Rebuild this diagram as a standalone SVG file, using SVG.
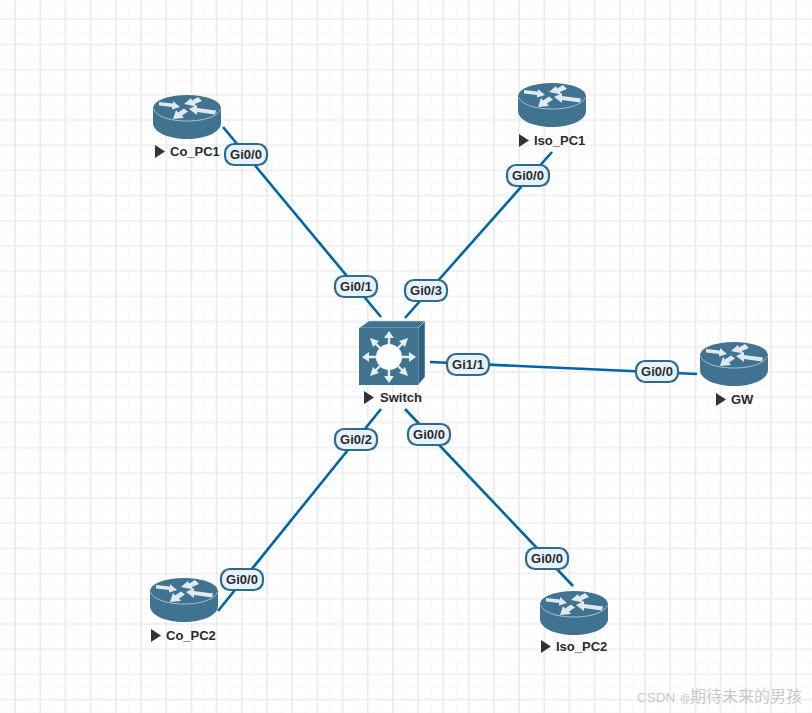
<svg xmlns="http://www.w3.org/2000/svg" width="812" height="713" viewBox="0 0 812 713">
<style>
.c{stroke:#0065a8;stroke-width:2.6;fill:none}
.lb rect{fill:#e6f2fc;stroke:#2f6a8f;stroke-width:2.2}
.lb text{font:bold 13px "Liberation Sans",Arial,sans-serif;fill:#2b2b2b;text-anchor:middle}
.n{font:bold 13px "Liberation Sans",Arial,sans-serif;fill:#2b2b2b}
.t{fill:#333}
.a{fill:#dfe9ef}
</style>
<defs>
<pattern id="g" width="25.2" height="25.2" patternUnits="userSpaceOnUse" x="2.4" y="6.6">
<path d="M0 0H25.2M0 12.6H25.2" stroke="#f3f3f5" stroke-width="1"/>
<path d="M0 0V25.2M12.6 0V25.2" stroke="#f3f3f5" stroke-width="1"/>
<path d="M0 12.6H25.2M12.6 0V25.2" stroke="#e8e8ea" stroke-width="1.2"/>
</pattern>
<g id="r">
<path d="M-34 -4V11C-34 20 -19 27 0 27S34 20 34 11V-4Z" fill="#3f7390"/>
<ellipse cx="0" cy="-4" rx="34" ry="13" fill="#3f7390"/>
<path d="M-33.5 -3C-31 4 -18 9 0 9S31 4 33.5 -3" fill="none" stroke="#a9c3d2" stroke-width="1"/>
<path class="a" d="M-28 -10L-14 -8.5L-14 -11L-7 -5L-15 -2.5L-15 -5L-28 -6.5Z"/>
<path class="a" d="M-3 -8L4 -14L5 -11.5L11 -15L15 -11L8 -8L9 -5.5Z"/>
<path class="a" d="M2 -3L10 -7L10 -4L29 -1.5L28 2.5L10 0L10 3Z"/>
<path class="a" d="M-14 7L-11 -2L-9 0.5L-3 -3.5L1 -0.5L-5 3.5L-3 6Z"/>
</g>
<path id="p" class="t" d="M0 0L10 6.5L0 13Z"/>
</defs>
<rect width="812" height="713" fill="#fff"/>
<rect width="812" height="713" fill="url(#g)"/>
<g id="connectors">
<path class="c" d="M223 127L381 317"/>
<path class="c" d="M405 318L552 152"/>
<path class="c" d="M430 362L697 374"/>
<path class="c" d="M381 409L218 611"/>
<path class="c" d="M405 409L573 586"/>
</g>
<g id="Co_PC1"><use href="#r" x="187" y="112"/><use href="#p" x="155" y="145"/><text class="n" x="170" y="156">Co_PC1</text></g>
<g id="Iso_PC1"><use href="#r" x="552" y="100"/><use href="#p" x="519" y="134"/><text class="n" x="534" y="145">Iso_PC1</text></g>
<g id="GW"><use href="#r" x="734" y="359"/><use href="#p" x="716" y="393"/><text class="n" x="731" y="404">GW</text></g>
<g id="Co_PC2"><use href="#r" x="184" y="595"/><use href="#p" x="151" y="629"/><text class="n" x="166" y="640">Co_PC2</text></g>
<g id="Iso_PC2"><use href="#r" x="574" y="608"/><use href="#p" x="541" y="640"/><text class="n" x="556" y="651">Iso_PC2</text></g>
<g id="Switch">
<path d="M359 328L369 321H425L418 328Z" fill="#3f7390" stroke="#cfdde6" stroke-width=".6"/>
<path d="M418 328L425 321V377L418 385Z" fill="#2f6080" stroke="#cfdde6" stroke-width=".6"/>
<rect x="359" y="328" width="59" height="57" fill="#3f7390"/>
<circle cx="389" cy="357" r="13" fill="#fff"/>
<g stroke="#e8eff3" stroke-width="2.4" fill="#e8eff3">
<path d="M389 344V336M389 370V378M376 357H368M402 357H410M380 348L374 342M398 348L404 342M380 366L374 372M398 366L404 372" fill="none"/>
<path stroke="none" d="M389 331L384 338H394ZM389 383L384 376H394ZM362 357L369 352V362ZM416 357L409 352V362ZM370 338L379 341L373 347ZM408 338L405 347L399 341ZM370 376L373 367L379 373ZM408 376L399 373L405 367Z"/>
</g>
<use href="#p" x="364" y="391"/><text class="n" x="380" y="402">Switch</text>
</g>
<g id="labels">
<g class="lb"><rect x="225" y="144" width="42" height="21" rx="9"/><text x="246" y="159">Gi0/0</text></g>
<g class="lb"><rect x="335" y="276" width="42" height="21" rx="9"/><text x="356" y="291">Gi0/1</text></g>
<g class="lb"><rect x="405" y="280" width="42" height="21" rx="9"/><text x="426" y="295">Gi0/3</text></g>
<g class="lb"><rect x="507" y="165" width="42" height="21" rx="9"/><text x="528" y="180">Gi0/0</text></g>
<g class="lb"><rect x="447" y="354" width="42" height="21" rx="9"/><text x="468" y="369">Gi1/1</text></g>
<g class="lb"><rect x="636" y="361" width="42" height="21" rx="9"/><text x="657" y="376">Gi0/0</text></g>
<g class="lb"><rect x="335" y="429" width="42" height="21" rx="9"/><text x="356" y="444">Gi0/2</text></g>
<g class="lb"><rect x="408" y="424" width="42" height="21" rx="9"/><text x="429" y="439">Gi0/0</text></g>
<g class="lb"><rect x="221" y="569" width="42" height="21" rx="9"/><text x="242" y="584">Gi0/0</text></g>
<g class="lb"><rect x="526" y="548" width="42" height="21" rx="9"/><text x="547" y="563">Gi0/0</text></g>
</g>
<text x="637" y="702" font-family="'Liberation Sans','Noto Sans CJK SC',sans-serif" font-size="13.5" fill="#c9c9c9">CSDN <tspan font-size="10" x="680">@</tspan><tspan font-size="16" x="690">期待未来的男孩</tspan></text>
</svg>
